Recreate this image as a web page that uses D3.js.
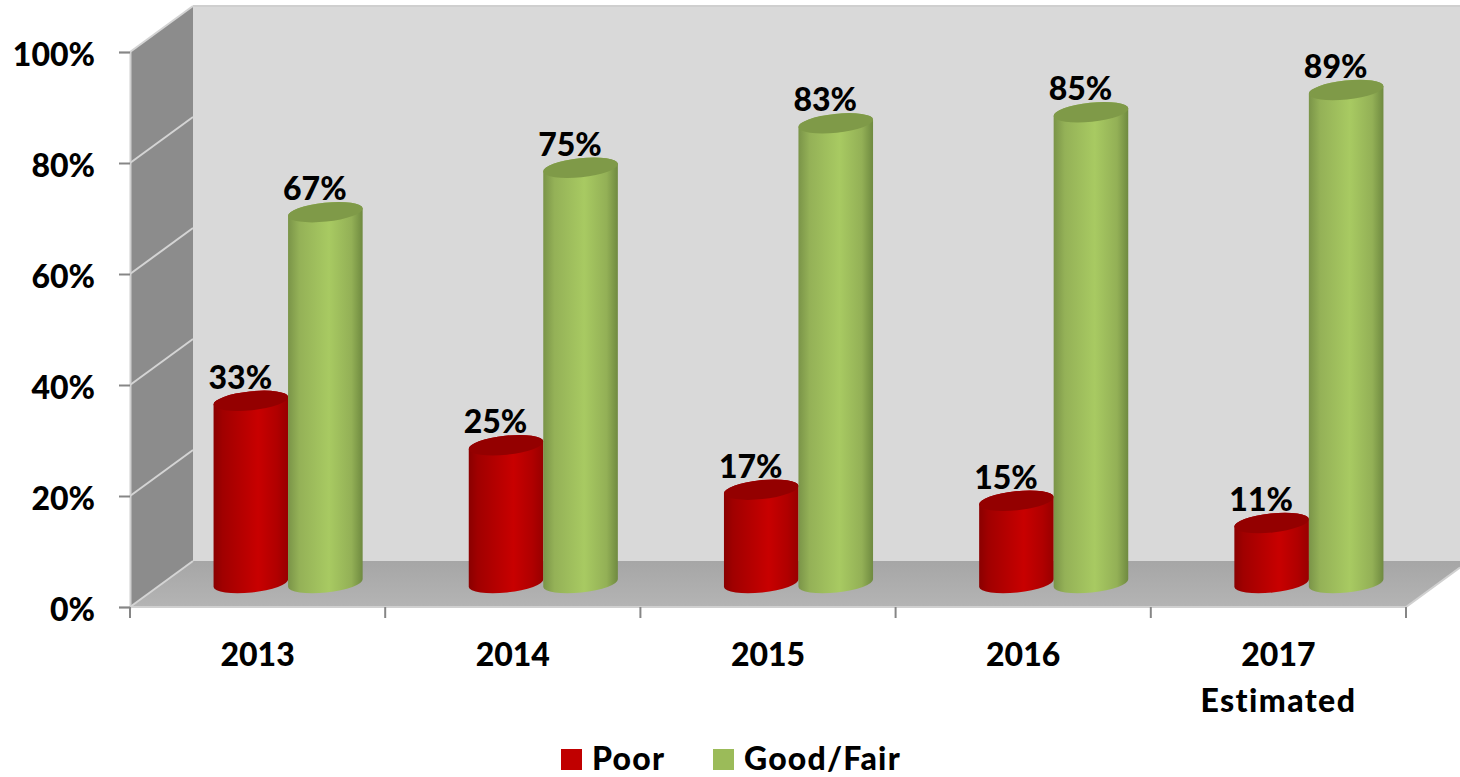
<!DOCTYPE html>
<html>
<head>
<meta charset="utf-8">
<script src="https://cdn.jsdelivr.net/npm/d3@7"></script>
<style>
    html, body { margin: 0; padding: 0; background: #fff; }
    svg { display: block; }
    text { font-family: Lato, "Open Sans", sans-serif; font-weight: 900; fill: #000; }
</style>
</head>
<body>
<div id="chart"></div>
<script>
const years = ["2013", "2014", "2015", "2016", "2017"]
const yearNotes = ["", "", "", "", "Estimated"]
const poor = [33, 25, 17, 15, 11]
const goodFair = [67, 75, 83, 85, 89]
const seriesNames = ["Poor", "Good/Fair"]
const yTicks = [0, 20, 40, 60, 80, 100]

const width = 1460, height = 777
const depth = {x: 63, y: -46}       // how far the back wall sits from the front axis
const baseLift = 24                 // cylinders stand this far behind the front edge
const rx = 37.5, ry = 9.5, tilt = -6
const labelSize = "32px"

const svg = d3.select("#chart").append("svg")
    .attr("width", width)
    .attr("height", height)

const y = d3.scaleLinear().domain([0, 100]).range([607, 52])
const x0 = d3.scaleBand().domain(years).range([130, 1406])
const x1 = d3.scaleBand().domain(seriesNames).range([0, 149])

// Gradients for the cylinder sides and the floor
const defs = svg.append("defs")
function sideGradient(id, stops) {
    defs.append("linearGradient").attr("id", id)
        .selectAll("stop").data(stops).enter().append("stop")
        .attr("offset", d => d[0])
        .attr("stop-color", d => d[1])
}
sideGradient("redSide", [[0, "#8a0000"], [0.12, "#a00000"], [0.6, "#c80000"], [0.85, "#b00000"], [1, "#980000"]])
sideGradient("greenSide", [[0, "#7a9448"], [0.15, "#94b157"], [0.55, "#a8ca62"], [0.85, "#93b056"], [1, "#6f8a40"]])
defs.append("linearGradient").attr("id", "floorFill")
    .attr("x1", 0).attr("x2", 0).attr("y1", 0).attr("y2", 1)
    .selectAll("stop").data([[0, "#a6a6a6"], [1, "#b4b4b4"]]).enter().append("stop")
    .attr("offset", d => d[0])
    .attr("stop-color", d => d[1])

const floorY = y(0), wallTop = y(100) + depth.y, wallBottom = y(0) + depth.y
const left = x0.range()[0], right = x0.range()[1]

// Back wall
svg.append("rect")
    .attr("x", left + depth.x)
    .attr("y", wallTop)
    .attr("width", width - left - depth.x)
    .attr("height", wallBottom - wallTop)
    .attr("fill", "#d9d9d9")
svg.append("line")
    .attr("x1", left + depth.x).attr("x2", width)
    .attr("y1", wallTop).attr("y2", wallTop)
    .attr("stroke", "#cfcfcf").attr("stroke-width", 2)

// Side wall
svg.append("path")
    .attr("d", d3.line()([[left, y(100)], [left + depth.x, wallTop], [left + depth.x, wallBottom], [left, floorY]]))
    .attr("fill", "#8c8c8c")

// Floor
svg.append("path")
    .attr("d", d3.line()([[left, floorY], [right, floorY], [width, floorY + depth.y * (width - right) / depth.x], [width, wallBottom], [left + depth.x, wallBottom]]))
    .attr("fill", "url(#floorFill)")
svg.append("path")
    .attr("d", d3.line()([[left, floorY], [right, floorY], [width, floorY + depth.y * (width - right) / depth.x]]))
    .attr("fill", "none")
    .attr("stroke", "#d0d0d0")
    .attr("stroke-width", 2)

// Grid lines on the side wall
svg.selectAll(".side-grid")
    .data(yTicks)
    .enter()
    .append("line")
    .attr("class", "side-grid")
    .attr("x1", left)
    .attr("x2", left + depth.x)
    .attr("y1", d => y(d))
    .attr("y2", d => y(d) + depth.y)
    .attr("stroke", "#d4d4d4")
    .attr("stroke-width", 2)

// Axes
const yAxis = d3.axisLeft(y)
    .tickValues(yTicks)
    .tickFormat(d => d + "%")
    .tickSize(11)
    .tickPadding(24)
const xAxis = d3.axisBottom(x0)
    .tickValues([])
    .tickSize(0)

const yG = svg.append("g").attr("transform", `translate(${left}, 0)`).call(yAxis)
yG.select(".domain").attr("stroke", "#d0d0d0").attr("stroke-width", 2)
yG.selectAll(".tick line").attr("stroke", "#868686").attr("stroke-width", 2)
yG.selectAll(".tick text")
    .attr("dy", "0.42em")
    .style("font-family", "Lato, sans-serif")
    .style("font-size", labelSize)
    .style("font-weight", 900)

const xG = svg.append("g").attr("transform", `translate(0, ${floorY})`).call(xAxis)
xG.select(".domain").remove()
xG.selectAll(".edge-tick")
    .data(years.map(d => x0(d)).concat(right))
    .enter()
    .append("line")
    .attr("class", "edge-tick")
    .attr("x1", d => d).attr("x2", d => d)
    .attr("y1", 0).attr("y2", 11)
    .attr("stroke", "#868686")
    .attr("stroke-width", 2)

xG.selectAll(".year-label")
    .data(years)
    .enter()
    .append("text")
    .attr("class", "year-label")
    .attr("x", d => x0(d) + x0.bandwidth() / 2)
    .attr("y", 59)
    .attr("text-anchor", "middle")
    .style("font-size", labelSize)
    .text(d => d)
xG.selectAll(".year-note")
    .data(yearNotes)
    .enter()
    .append("text")
    .attr("class", "year-note")
    .attr("x", (d, i) => x0(years[i]) + x0.bandwidth() / 2)
    .attr("y", 105)
    .attr("text-anchor", "middle")
    .style("font-size", labelSize)
    .style("letter-spacing", "1.4px")
    .text(d => d)

// Cylinders
const rad = tilt * Math.PI / 180
const dx = rx * Math.cos(rad), dy = rx * Math.sin(rad)

function cylinderSide(cx, top, bottom) {
    return `M${cx - dx},${top - dy} L${cx - dx},${bottom - dy}`
        + ` A${rx},${ry} ${tilt} 0 0 ${cx + dx},${bottom + dy}`
        + ` L${cx + dx},${top + dy} A${rx},${ry} ${tilt} 0 0 ${cx - dx},${top - dy} Z`
}

const seriesStyles = [
    {values: poor, side: "url(#redSide)", top: "#940000"},
    {values: goodFair, side: "url(#greenSide)", top: "#7f9a48"}
]

years.forEach((year, i) => {
    const g = svg.append("g").attr("class", "cylinders")
    // the pair is centred on the band, pushed back by the depth of the floor
    const start = x0(year) + (x0.bandwidth() + depth.x) / 2 - x1.range()[1] / 2 - 1
    seriesStyles.forEach((s, j) => {
        const cx = start + x1(seriesNames[j]) + x1.bandwidth() / 2
        const top = y(s.values[i]) - baseLift + 1
        const bottom = y(0) - baseLift
        g.append("path")
            .attr("d", cylinderSide(cx, top, bottom))
            .attr("fill", s.side)
        g.append("ellipse")
            .attr("cx", cx)
            .attr("cy", top)
            .attr("rx", rx)
            .attr("ry", ry)
            .attr("transform", `rotate(${tilt} ${cx} ${top})`)
            .attr("fill", s.top)
        g.append("text")
            .attr("x", cx - 10.5)
            .attr("y", top - 12)
            .attr("text-anchor", "middle")
            .style("font-size", labelSize)
            .text(s.values[i] + "%")
    })
})

// Legend
const legendItems = [
    {name: seriesNames[0], color: "#c00000", boxX: 561},
    {name: seriesNames[1], color: "#9bbb59", boxX: 713}
]
const legend = svg.selectAll(".legend-item")
    .data(legendItems)
    .enter()
    .append("g")
    .attr("class", "legend-item")
    .attr("transform", d => `translate(${d.boxX}, 749)`)
legend.append("rect")
    .attr("width", 21)
    .attr("height", 21)
    .attr("fill", d => d.color)
legend.append("text")
    .attr("x", 31)
    .attr("y", 21)
    .style("font-size", labelSize)
    .style("letter-spacing", "1.2px")
    .text(d => d.name)
</script>
</body>
</html>
